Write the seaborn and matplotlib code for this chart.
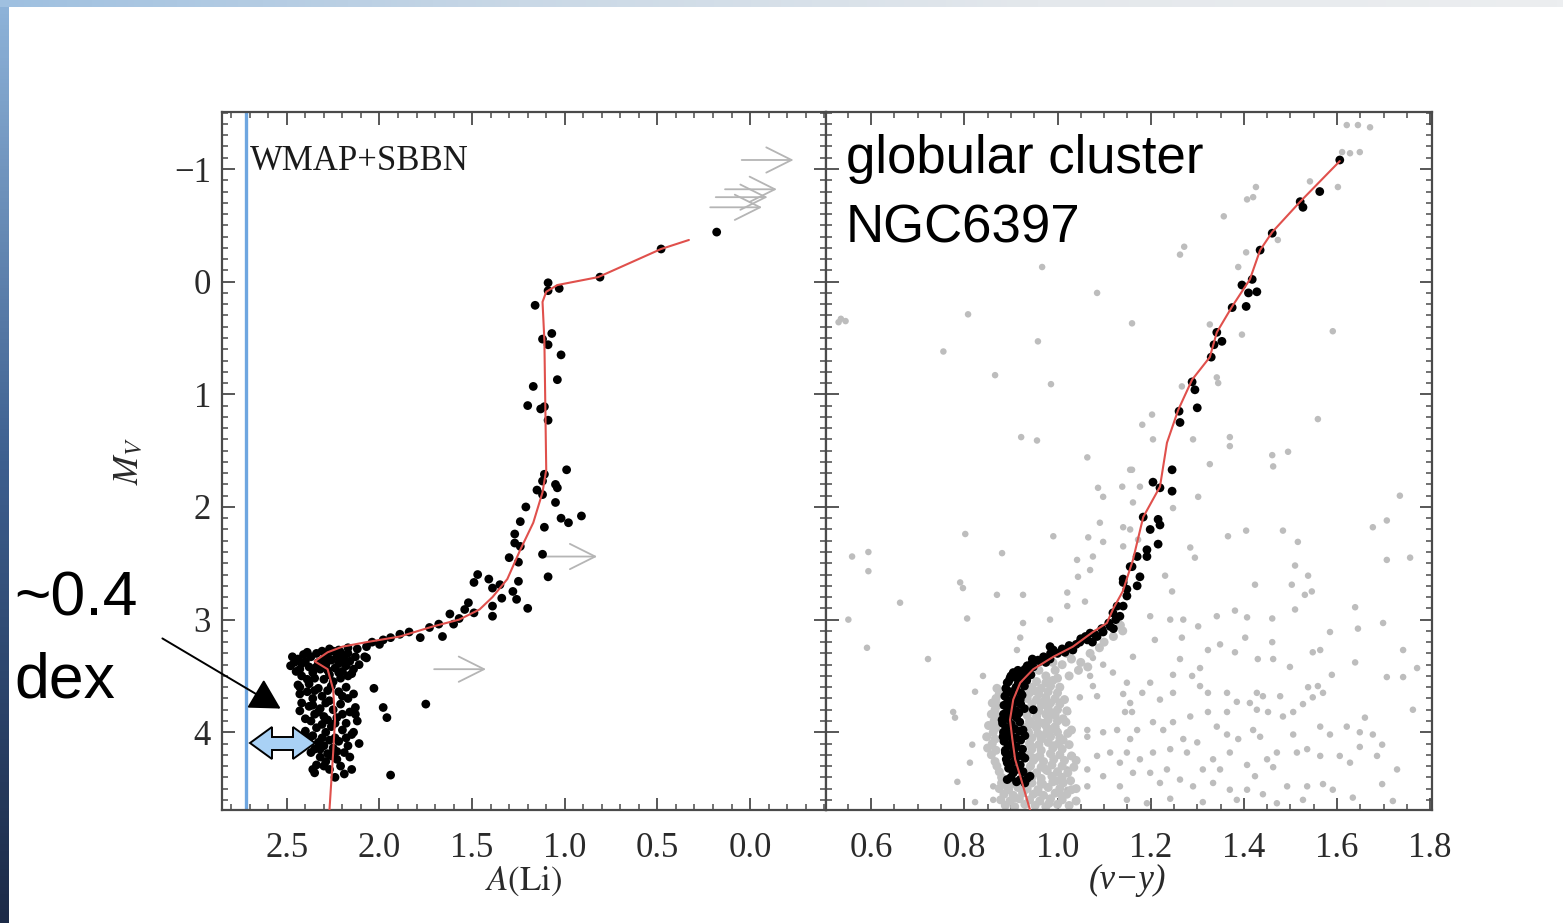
import numpy as np
import pandas as pd
import matplotlib
matplotlib.use("Agg")
import matplotlib.pyplot as plt
import matplotlib.patches as mpatches
from matplotlib.colors import LinearSegmentedColormap
from matplotlib.ticker import MultipleLocator, FormatStrFormatter
import seaborn as sns

# ---------------- data ----------------
wmap_sbbn_ali = 2.72

# fiducial line, left panel: (A(Li), M_V)
li_fit = [(0.33, -0.37), (0.48, -0.29), (0.82, -0.04), (1.04, 0.03), (1.10, 0.09),
          (1.12, 0.18), (1.11, 0.52), (1.10, 1.67), (1.12, 1.87), (1.17, 2.14),
          (1.24, 2.38), (1.31, 2.64), (1.39, 2.80), (1.46, 2.91), (1.57, 3.00),
          (1.71, 3.06), (1.89, 3.15), (2.07, 3.20), (2.20, 3.24), (2.28, 3.29),
          (2.35, 3.37), (2.28, 3.44), (2.25, 3.62), (2.24, 3.89), (2.25, 4.18),
          (2.27, 4.69)]

# subgiant / giant stars with Li detections
li_giants = [(0.18, -0.44), (0.48, -0.29), (0.81, -0.04), (1.09, 0.01), (1.09, 0.08),
             (1.03, 0.06), (1.16, 0.21), (1.07, 0.46), (1.12, 0.51), (1.09, 0.56),
             (1.02, 0.65), (1.04, 0.87), (1.17, 0.93), (1.20, 1.10), (1.13, 1.13),
             (1.11, 1.11), (1.09, 1.23), (0.99, 1.67), (1.11, 1.71), (1.15, 1.85),
             (1.12, 1.77), (1.05, 1.80), (1.04, 1.83), (1.12, 1.89), (1.05, 1.96),
             (1.21, 2.00), (1.24, 2.13), (1.02, 2.10), (0.98, 2.14), (0.91, 2.08),
             (1.11, 2.18), (1.27, 2.24), (1.27, 2.32), (1.24, 2.35), (1.12, 2.42),
             (1.30, 2.45), (1.25, 2.49), (1.47, 2.60), (1.49, 2.67), (1.41, 2.64),
             (1.39, 2.72), (1.35, 2.69), (1.25, 2.66), (1.09, 2.62), (1.28, 2.75),
             (1.26, 2.82), (1.34, 2.81), (1.39, 2.88), (1.39, 2.97), (1.20, 2.90),
             (1.52, 2.85), (1.54, 2.91), (1.62, 2.95), (1.49, 2.94), (1.57, 2.99),
             (1.60, 3.04), (1.66, 3.15), (1.68, 3.04), (1.73, 3.07), (1.78, 3.16),
             (1.84, 3.11), (1.89, 3.13), (1.94, 3.16), (1.98, 3.18), (2.04, 3.20),
             (2.07, 3.24), (2.00, 3.22), (2.08, 3.33), (2.03, 3.61), (1.98, 3.78),
             (1.96, 3.87), (1.75, 3.75), (1.94, 4.38)]

# turn-off / main-sequence stars (the plateau clump)
li_dwarfs = [(2.46, 3.38), (2.48, 3.41), (2.44, 3.35), (2.41, 3.31), (2.43, 3.44),
             (2.39, 3.29), (2.40, 3.37), (2.37, 3.33), (2.38, 3.42), (2.36, 3.47),
             (2.34, 3.30), (2.33, 3.38), (2.35, 3.52), (2.31, 3.28), (2.30, 3.35),
             (2.32, 3.44), (2.29, 3.40), (2.28, 3.31), (2.27, 3.49), (2.26, 3.36),
             (2.25, 3.28), (2.24, 3.43), (2.23, 3.33), (2.22, 3.39), (2.21, 3.29),
             (2.20, 3.46), (2.19, 3.35), (2.18, 3.41), (2.17, 3.30), (2.16, 3.37),
             (2.14, 3.44), (2.13, 3.33), (2.11, 3.40), (2.45, 3.46), (2.42, 3.50),
             (2.39, 3.53), (2.30, 3.53), (2.25, 3.55), (2.21, 3.52), (2.17, 3.50),
             (2.47, 3.33), (2.42, 3.39), (2.34, 3.42), (2.28, 3.45), (2.22, 3.47),
             (2.15, 3.48), (2.12, 3.26), (2.17, 3.25), (2.22, 3.27), (2.27, 3.26),
             (2.44, 3.58), (2.43, 3.66), (2.42, 3.74), (2.43, 3.81), (2.40, 3.88),
             (2.43, 3.60), (2.38, 3.57), (2.39, 3.64), (2.36, 3.70), (2.38, 3.77),
             (2.35, 3.84), (2.37, 3.90), (2.34, 3.96), (2.36, 4.03), (2.33, 4.09),
             (2.35, 4.15), (2.32, 4.22), (2.34, 4.29), (2.33, 3.61), (2.31, 3.68),
             (2.32, 3.79), (2.30, 3.86), (2.31, 3.93), (2.29, 4.00), (2.30, 4.12),
             (2.28, 4.19), (2.29, 4.26), (2.27, 4.33), (2.26, 3.59), (2.27, 3.72),
             (2.25, 3.80), (2.26, 3.95), (2.24, 4.05), (2.25, 4.14), (2.23, 4.24),
             (2.22, 3.64), (2.21, 3.75), (2.23, 3.87), (2.20, 3.98), (2.22, 4.08),
             (2.19, 4.18), (2.21, 4.30), (2.18, 3.60), (2.17, 3.70), (2.16, 3.82),
             (2.18, 3.92), (2.15, 4.02), (2.17, 4.12), (2.16, 4.22), (2.14, 3.66),
             (2.13, 3.78), (2.12, 3.90), (2.14, 4.00), (2.11, 4.10), (2.19, 4.37),
             (2.24, 4.40), (2.15, 4.33), (2.38, 4.05), (2.37, 4.18), (2.36, 4.33),
             (2.40, 3.99), (2.28, 3.63), (2.35, 3.63), (2.20, 3.68), (2.24, 3.92),
             (2.28, 3.89), (2.33, 3.82), (2.36, 3.76), (2.31, 4.05), (2.27, 4.07),
             (2.18, 4.05), (2.23, 4.17), (2.32, 4.15), (2.29, 3.74), (2.20, 3.84),
             (2.26, 4.21), (2.30, 4.30), (2.13, 3.84), (2.07, 3.34), (2.35, 4.36)]

# upper limits on A(Li): (limit, M_V)
li_limits = [(0.06, -1.08), (0.15, -0.82), (0.20, -0.75), (0.23, -0.66),
             (1.12, 2.44), (1.72, 3.44)]

# fiducial line, right panel: ((v-y), M_V)
cmd_fit = [(1.606, -1.07), (1.521, -0.71), (1.461, -0.44), (1.435, -0.28), (1.413, -0.02),
           (1.375, 0.22), (1.342, 0.45), (1.327, 0.67), (1.289, 0.87), (1.259, 1.14),
           (1.235, 1.43), (1.220, 1.82), (1.184, 2.09), (1.162, 2.47), (1.140, 2.75),
           (1.120, 2.90), (1.106, 3.03), (1.076, 3.11), (1.033, 3.24), (0.991, 3.33),
           (0.948, 3.44), (0.920, 3.56), (0.905, 3.71), (0.898, 3.89), (0.903, 4.06),
           (0.909, 4.24), (0.920, 4.39), (0.941, 4.69)]

# spectroscopic targets (black) in the colour-magnitude diagram
cmd_members = [(1.606, -1.08), (1.563, -0.80), (1.521, -0.71), (1.527, -0.66), (1.461, -0.43),
               (1.435, -0.28), (1.418, -0.02), (1.396, 0.03), (1.410, 0.10), (1.428, 0.09),
               (1.405, 0.22), (1.375, 0.23), (1.342, 0.45), (1.336, 0.56), (1.353, 0.53),
               (1.330, 0.67), (1.289, 0.89), (1.295, 0.96), (1.300, 1.12), (1.261, 1.15),
               (1.263, 1.25), (1.246, 1.67), (1.205, 1.78), (1.220, 1.83), (1.246, 1.86),
               (1.184, 2.09), (1.216, 2.11), (1.220, 2.16), (1.199, 2.20), (1.216, 2.33),
               (1.192, 2.38), (1.192, 2.44), (1.171, 2.44), (1.156, 2.53), (1.177, 2.62),
               (1.171, 2.70), (1.141, 2.67), (1.149, 2.79), (1.141, 2.88), (1.134, 2.97),
               (1.160, 2.53), (1.141, 2.64), (1.149, 2.73), (1.128, 2.88), (1.119, 2.94),
               (1.113, 3.06), (1.098, 3.11), (1.085, 3.15), (1.064, 3.18), (1.048, 3.20),
               (1.033, 3.27), (1.016, 3.29), (0.991, 3.27), (0.984, 3.35), (0.963, 3.37),
               (0.948, 3.42), (0.935, 3.46), (0.920, 3.47), (0.905, 3.51), (0.892, 3.56),
               (0.892, 3.65), (0.892, 3.74), (0.881, 3.89), (0.883, 4.04), (0.888, 4.18),
               (0.892, 4.27), (0.892, 4.42), (0.920, 4.42), (0.941, 4.39), (0.948, 3.80),
               (0.926, 3.98), (0.924, 4.21), (0.920, 3.71), (0.913, 3.82),
               (1.125, 3.00), (1.110, 3.03), (1.120, 3.08), (1.095, 3.08), (1.080, 3.13),
               (1.070, 3.12), (1.060, 3.15), (1.075, 3.20), (1.050, 3.17), (1.040, 3.22),
               (1.025, 3.23), (1.010, 3.26), (1.000, 3.30), (0.985, 3.30), (0.970, 3.33),
               (0.975, 3.38), (0.958, 3.36), (0.945, 3.39), (0.935, 3.41), (0.930, 3.44),
               (0.915, 3.45), (0.905, 3.47), (0.898, 3.52), (0.915, 3.50), (0.984, 3.24),
               (0.946, 3.35), (0.900, 3.50), (0.925, 3.51), (0.943, 3.49), (0.895, 3.55),
               (0.916, 3.56), (0.934, 3.54), (0.889, 3.61), (0.911, 3.60), (0.929, 3.59),
               (0.901, 3.64), (0.921, 3.65), (0.887, 3.68), (0.906, 3.69), (0.924, 3.67),
               (0.896, 3.72), (0.914, 3.73), (0.885, 3.76), (0.903, 3.77), (0.921, 3.75),
               (0.893, 3.80), (0.911, 3.81), (0.929, 3.79), (0.884, 3.84), (0.899, 3.85),
               (0.917, 3.83), (0.894, 3.88), (0.912, 3.87), (0.882, 3.92), (0.901, 3.93),
               (0.919, 3.91), (0.889, 3.96), (0.908, 3.97), (0.884, 4.00), (0.899, 4.01),
               (0.918, 3.99), (0.892, 4.04), (0.911, 4.05), (0.930, 4.03), (0.885, 4.08),
               (0.903, 4.09), (0.921, 4.07), (0.894, 4.12), (0.912, 4.13), (0.888, 4.16),
               (0.906, 4.17), (0.925, 4.15), (0.897, 4.20), (0.915, 4.21), (0.890, 4.24),
               (0.909, 4.25), (0.930, 4.23), (0.900, 4.28), (0.920, 4.29), (0.895, 4.32),
               (0.912, 4.33), (0.905, 4.36), (0.926, 4.35), (0.900, 4.40), (0.935, 4.41),
               (0.912, 4.44), (0.930, 4.45)]

# photometric field (grey)
cmd_field = [(0.967, -0.13), (1.085, 0.10), (0.808, 0.29), (1.160, 0.37), (0.958, 0.53),
             (0.755, 0.62), (0.866, 0.83), (0.986, 0.91), (0.922, 1.38), (0.956, 1.41),
             (0.535, 0.33), (0.545, 0.35), (0.530, 0.36),
             (1.621, -1.39), (1.645, -1.39), (1.671, -1.37), (1.611, -1.15), (1.628, -1.14),
             (1.649, -1.15), (1.602, -0.84), (1.542, -0.89), (1.426, -0.84), (1.407, -0.73),
             (1.420, -0.75), (1.357, -0.58), (1.272, -0.31), (1.263, -0.24), (1.405, -0.26),
             (1.388, -0.13), (1.473, -0.37), (1.396, 0.47), (1.591, 0.44), (1.327, 0.38),
             (1.342, 0.85), (1.345, 0.90), (1.203, 1.18), (1.182, 1.27), (1.559, 1.22),
             (1.370, 1.38), (1.291, 1.40), (1.267, 0.93),
             (1.370, 1.46), (1.461, 1.54), (1.495, 1.51), (1.463, 1.64), (1.327, 1.62),
             (1.302, 1.91), (1.248, 2.01), (1.735, 1.90), (1.677, 2.18), (1.707, 2.12),
             (1.757, 2.45), (1.707, 2.47), (1.366, 2.26), (1.405, 2.21), (1.484, 2.21),
             (1.516, 2.31), (1.285, 2.36), (1.295, 2.45), (1.231, 2.61), (1.246, 2.75),
             (1.510, 2.52), (1.538, 2.61), (1.503, 2.69), (1.424, 2.69), (1.531, 2.78),
             (1.546, 2.75), (1.510, 2.91), (1.639, 2.89), (1.699, 3.03), (1.645, 3.08),
             (1.585, 3.11), (1.461, 2.99), (1.381, 2.92), (1.342, 2.97), (1.407, 2.98),
             (1.302, 3.06), (1.199, 2.97), (1.270, 3.00), (1.242, 3.00), (1.267, 3.16),
             (1.209, 3.18), (1.162, 3.33), (1.263, 3.35), (1.323, 3.27), (1.349, 3.22),
             (1.403, 3.16), (1.461, 3.20), (1.381, 3.29), (1.430, 3.35), (1.463, 3.35),
             (1.499, 3.42), (1.548, 3.29), (1.564, 3.27), (1.589, 3.49), (1.639, 3.38),
             (1.742, 3.27), (1.707, 3.51), (1.742, 3.51), (1.772, 3.43), (1.763, 3.80),
             (1.306, 3.43), (1.248, 3.49), (1.199, 3.56), (1.289, 3.50), (1.248, 3.65),
             (1.306, 3.59), (1.323, 3.65), (1.364, 3.65), (1.220, 3.71), (1.182, 3.65),
             (1.156, 3.74), (1.145, 3.82), (1.428, 3.65), (1.441, 3.68), (1.478, 3.68),
             (1.413, 3.74), (1.385, 3.73), (1.428, 3.80), (1.452, 3.82), (1.484, 3.86),
             (1.506, 3.82), (1.527, 3.75), (1.548, 3.69), (1.570, 3.65), (1.559, 3.59),
             (1.538, 3.60), (1.364, 3.82), (1.323, 3.82), (1.285, 3.86), (1.248, 3.91),
             (1.205, 3.91), (1.171, 3.98), (1.227, 3.98), (1.270, 4.06), (1.300, 4.09),
             (1.342, 3.95), (1.364, 4.02), (1.388, 4.06), (1.420, 3.98), (1.435, 4.04),
             (1.506, 4.02), (1.536, 4.15), (1.564, 3.95), (1.585, 4.02), (1.621, 3.95),
             (1.649, 4.00), (1.677, 4.02), (1.660, 3.87), (1.697, 4.11), (1.686, 4.21),
             (1.606, 4.21), (1.564, 4.21), (1.514, 4.18), (1.471, 4.18), (1.450, 4.24),
             (1.463, 4.31), (1.424, 4.39), (1.407, 4.29), (1.370, 4.18), (1.334, 4.24),
             (1.349, 4.33), (1.312, 4.33), (1.278, 4.18), (1.242, 4.15), (1.205, 4.18),
             (1.177, 4.24), (1.149, 4.18), (1.162, 4.36), (1.199, 4.36), (1.235, 4.33),
             (1.220, 4.45), (1.263, 4.42), (1.291, 4.48), (1.334, 4.45), (1.370, 4.51),
             (1.407, 4.51), (1.441, 4.55), (1.493, 4.48), (1.536, 4.48), (1.570, 4.46),
             (1.591, 4.51), (1.628, 4.27), (1.649, 4.13), (1.729, 4.33), (1.697, 4.46),
             (1.149, 4.60), (1.192, 4.63), (1.242, 4.59), (1.312, 4.62), (1.385, 4.60),
             (1.471, 4.63), (1.527, 4.60), (1.720, 4.61), (1.634, 4.58),
             (1.064, 1.56), (1.160, 1.67), (1.139, 1.82), (1.087, 1.83), (1.098, 1.91),
             (1.091, 2.14), (1.141, 2.18), (1.066, 2.27), (1.098, 2.31), (0.802, 2.24),
             (0.991, 2.26), (0.559, 2.44), (0.594, 2.40), (0.594, 2.57), (0.881, 2.41),
             (1.042, 2.47), (1.076, 2.44), (1.044, 2.62), (1.070, 2.56), (0.791, 2.67),
             (0.797, 2.72), (0.662, 2.85), (0.870, 2.78), (0.926, 2.78), (1.021, 2.76),
             (1.021, 2.88), (1.059, 2.84), (0.984, 3.00), (0.551, 3.00), (0.806, 2.99),
             (0.926, 3.03), (0.591, 3.25), (0.722, 3.35), (0.920, 3.16), (0.913, 3.27),
             (0.840, 3.50), (0.823, 3.64), (0.776, 3.82), (0.780, 3.87), (1.076, 3.34),
             (1.098, 3.40), (1.070, 3.50), (1.076, 3.59), (1.048, 3.69), (1.085, 3.68),
             (1.119, 3.47), (1.149, 3.56), (1.141, 3.66), (1.006, 3.73), (1.023, 3.82),
             (0.984, 3.82), (0.999, 3.98), (1.064, 3.98), (1.064, 4.04), (1.098, 4.00),
             (1.128, 3.98), (1.160, 3.82), (1.156, 4.06), (1.113, 4.18), (1.134, 4.27),
             (1.085, 4.21), (1.064, 4.33), (1.033, 4.21), (1.021, 4.33), (1.098, 4.39),
             (1.134, 4.48), (1.064, 4.48), (1.021, 4.51), (0.817, 4.11), (0.812, 4.27),
             (0.785, 4.44), (0.823, 4.62), (0.862, 4.48), (0.862, 4.60),
             (1.156, 1.67), (1.177, 1.82), (1.162, 1.96), (1.156, 2.20), (1.173, 2.29),
             (1.141, 2.35), (1.205, 1.40)]

# dense grey main sequence of the cluster
cmd_ms = [(0.955, 3.55), (0.975, 3.56), (0.990, 3.54), (0.945, 3.60), (0.965, 3.61),
          (0.985, 3.59), (1.005, 3.60), (0.870, 3.61), (0.940, 3.65), (0.960, 3.66),
          (0.980, 3.64), (1.000, 3.65), (0.875, 3.66), (0.935, 3.70), (0.955, 3.71),
          (0.975, 3.69), (0.995, 3.70), (1.015, 3.71), (0.868, 3.70), (0.945, 3.75),
          (0.965, 3.76), (0.985, 3.74), (1.005, 3.75), (0.872, 3.76), (0.860, 3.74),
          (0.940, 3.80), (0.960, 3.81), (0.980, 3.79), (1.000, 3.80), (1.020, 3.81),
          (0.866, 3.80), (0.935, 3.85), (0.955, 3.86), (0.975, 3.84), (0.995, 3.85),
          (0.870, 3.86), (0.858, 3.84), (0.940, 3.90), (0.960, 3.91), (0.980, 3.89),
          (1.000, 3.90), (1.018, 3.91), (0.864, 3.90), (0.935, 3.95), (0.955, 3.96),
          (0.975, 3.94), (0.995, 3.95), (0.868, 3.96), (0.852, 3.94), (0.938, 4.00),
          (0.958, 4.01), (0.978, 3.99), (1.000, 4.00), (1.022, 4.01), (0.862, 4.00),
          (0.945, 4.05), (0.965, 4.06), (0.985, 4.04), (1.005, 4.05), (0.866, 4.06),
          (0.848, 4.04), (0.940, 4.10), (0.960, 4.11), (0.980, 4.09), (1.002, 4.10),
          (1.025, 4.11), (0.860, 4.10), (0.945, 4.15), (0.965, 4.16), (0.990, 4.14),
          (1.010, 4.15), (0.868, 4.16), (0.850, 4.14), (0.940, 4.20), (0.962, 4.21),
          (0.985, 4.19), (1.005, 4.20), (1.030, 4.21), (0.858, 4.20), (0.948, 4.25),
          (0.970, 4.26), (0.992, 4.24), (1.015, 4.25), (0.866, 4.26), (0.942, 4.30),
          (0.965, 4.31), (0.988, 4.29), (1.010, 4.30), (1.035, 4.31), (0.870, 4.30),
          (0.935, 4.35), (0.955, 4.36), (0.978, 4.34), (1.000, 4.35), (1.022, 4.36),
          (0.875, 4.35), (0.945, 4.40), (0.965, 4.41), (0.988, 4.39), (1.010, 4.40),
          (0.880, 4.40), (0.880, 4.45), (0.900, 4.46), (0.920, 4.44), (0.945, 4.45),
          (0.968, 4.46), (0.990, 4.44), (1.012, 4.45), (0.875, 4.50), (0.895, 4.51),
          (0.915, 4.49), (0.935, 4.50), (0.958, 4.51), (0.980, 4.49), (1.005, 4.50),
          (1.030, 4.51), (0.885, 4.55), (0.905, 4.56), (0.925, 4.54), (0.948, 4.55),
          (0.970, 4.56), (0.995, 4.54), (1.020, 4.55), (0.878, 4.60), (0.898, 4.61),
          (0.918, 4.59), (0.940, 4.60), (0.962, 4.61), (0.985, 4.59), (1.010, 4.60),
          (1.040, 4.61), (0.888, 4.65), (0.908, 4.66), (0.930, 4.64), (0.952, 4.65),
          (0.975, 4.66), (1.000, 4.64), (1.025, 4.65),
          (0.940, 3.40), (0.960, 3.45), (0.975, 3.50), (0.995, 3.45), (1.010, 3.40),
          (1.030, 3.35), (1.050, 3.38), (1.020, 3.30), (0.990, 3.38), (1.070, 3.30),
          (1.090, 3.25), (1.100, 3.20), (1.045, 3.45), (1.065, 3.42), (1.000, 3.52),
          (1.025, 3.50), (1.120, 3.15), (1.135, 3.05), (1.140, 3.10),
          (0.950, 3.63), (0.970, 3.73), (0.990, 3.83), (0.948, 3.93), (0.968, 4.03),
          (0.992, 4.12), (0.952, 4.23), (0.975, 4.33), (0.998, 4.43), (0.958, 4.53),
          (0.982, 4.63), (1.010, 4.57), (0.990, 3.97), (1.012, 4.07), (0.970, 3.92),
          (0.945, 4.13), (1.012, 3.88), (0.965, 4.45), (0.928, 4.52), (0.908, 4.58),
          (0.892, 4.48), (1.028, 4.43), (1.040, 4.25), (1.030, 3.98), (1.040, 4.50)]

# ---------------- build tables ----------------
df_li_fit = pd.DataFrame(li_fit, columns=["ali", "mv"])
df_li_stars = pd.DataFrame(li_giants + li_dwarfs, columns=["ali", "mv"])
df_cmd_fit = pd.DataFrame(cmd_fit, columns=["vy", "mv"])
df_members = pd.DataFrame(cmd_members, columns=["vy", "mv"])
df_field = pd.DataFrame(cmd_field, columns=["vy", "mv"])
df_ms = pd.DataFrame(cmd_ms, columns=["vy", "mv"])

# ---------------- style ----------------
sns.set_theme(style="ticks")
plt.rcParams["font.family"] = ["Liberation Serif", "DejaVu Serif"]
plt.rcParams["mathtext.fontset"] = "stix"

W, H = 1563, 923
fig = plt.figure(figsize=(W / 100, H / 100), dpi=100)
fig.patch.set_facecolor("white")

# slide decoration: blue strip on the left, faint bar on top
strip = fig.add_axes([0, 0, 9 / W, 1])
strip.imshow(np.linspace(0, 1, 256).reshape(-1, 1), aspect="auto",
             cmap=LinearSegmentedColormap.from_list("s", ["#8fb4da", "#3d5f8f", "#1c2a47"]))
strip.set_axis_off()
bar = fig.add_axes([0, 1 - 7 / H, 1, 7 / H])
bar.imshow(np.linspace(0, 1, 256).reshape(1, -1), aspect="auto",
           cmap=LinearSegmentedColormap.from_list("b", ["#9fc0e0", "#c9d8e6", "#e4e8ec", "#eceef0"]))
bar.set_axis_off()

bottom, height = 1 - 810 / H, 698 / H
ax1 = fig.add_axes([222 / W, bottom, 604 / W, height])
ax2 = fig.add_axes([826 / W, bottom, 606 / W, height], sharey=ax1)

red = "#e0504c"
tick_col = "#2a2a2a"

# ---------------- left panel: A(Li) vs M_V ----------------
ax1.axvline(wmap_sbbn_ali, color="#6ea6e0", lw=2.4, zorder=1)
sns.scatterplot(data=df_li_stars, x="ali", y="mv", ax=ax1, color="black",
                s=40, edgecolor="none", zorder=3, legend=False)
sns.lineplot(data=df_li_fit, x="ali", y="mv", ax=ax1, sort=False, estimator=None,
             color=red, lw=1.5, zorder=4)
for a, m in li_limits:
    ax1.annotate("", xy=(a - 0.31, m), xytext=(a, m),
                 arrowprops=dict(arrowstyle="->,head_length=0.7,head_width=0.35",
                                 color="#b5b5b5", lw=1.3, mutation_scale=26), zorder=2)
ax1.text(2.70, -0.99, "WMAP+SBBN", fontsize=25, color="#1a1a1a", va="baseline", ha="left")

ax1.set_xlim(2.85, -0.41)
ax1.set_ylim(4.69, -1.506)
ax1.xaxis.set_major_locator(MultipleLocator(0.5))
ax1.xaxis.set_minor_locator(MultipleLocator(0.1))
ax1.xaxis.set_major_formatter(FormatStrFormatter("%.1f"))
ax1.yaxis.set_major_locator(MultipleLocator(1))
ax1.yaxis.set_minor_locator(MultipleLocator(0.1))
ax1.set_xlabel(r"$A(\mathrm{Li})$", fontsize=25, color=tick_col)
ax1.set_ylabel(r"$M_V$", fontsize=25, color=tick_col)
ax1.xaxis.set_label_coords(0.5, -0.078)
ax1.yaxis.set_label_coords(-0.125, 0.5)

# ---------------- right panel: (v-y) vs M_V ----------------
sns.scatterplot(data=df_field, x="vy", y="mv", ax=ax2, color="#bdbdbd",
                s=22, edgecolor="none", zorder=2, legend=False)
sns.scatterplot(data=df_ms, x="vy", y="mv", ax=ax2, color="#c2c2c2",
                s=42, edgecolor="none", zorder=2, legend=False)
sns.scatterplot(data=df_members, x="vy", y="mv", ax=ax2, color="black",
                s=40, edgecolor="none", zorder=3, legend=False)
sns.lineplot(data=df_cmd_fit, x="vy", y="mv", ax=ax2, sort=False, estimator=None,
             color=red, lw=1.5, zorder=4)
ax2.text(0.546, -0.346, "globular cluster\nNGC6397", fontsize=38, color="black",
         family=["Liberation Sans", "DejaVu Sans"], va="baseline", ha="left", linespacing=1.5)

ax2.set_xlim(0.503, 1.804)
ax2.xaxis.set_major_locator(MultipleLocator(0.2))
ax2.xaxis.set_minor_locator(MultipleLocator(0.05))
ax2.xaxis.set_major_formatter(FormatStrFormatter("%.1f"))
ax2.set_xlabel("(v\u2212y)", fontsize=25, style="italic", color=tick_col)
ax2.xaxis.set_label_coords(0.497, -0.078)
ax2.set_ylabel("")
ax2.tick_params(axis="y", labelleft=False)

for ax in (ax1, ax2):
    for sp in ax.spines.values():
        sp.set_color("#4a4a4a")
        sp.set_linewidth(1.6)
    ax.tick_params(which="both", direction="in", top=True, right=True,
                   colors="#4a4a4a", labelcolor=tick_col, labelsize=25)
    ax.tick_params(which="major", length=9, width=1.3)
    ax.tick_params(which="minor", length=4.5, width=1.1)
    ax.tick_params(axis="x", pad=16)
    ax.tick_params(axis="y", pad=8)
    ax.set_facecolor("white")

# ---------------- slide annotations ----------------
fig.text(14 / W, 1 - 697 / H, "~0.4\ndex", fontsize=45, color="black",
         family=["Liberation Sans", "DejaVu Sans"], va="baseline", ha="left", linespacing=1.48)
fig.add_artist(mpatches.FancyArrowPatch(
    (160 / W, 1 - 637 / H), (283 / W, 1 - 710 / H), transform=fig.transFigure,
    arrowstyle="-|>,head_length=0.9,head_width=0.5", mutation_scale=21,
    color="black", lw=1.4))

# double-headed block arrow marking the 0.4 dex offset
px = [250, 272, 272, 293, 293, 315, 293, 293, 272, 272]
py = [743, 727, 737, 737, 727, 743, 759, 750, 750, 759]
fig.add_artist(mpatches.Polygon(
    [(x / W, 1 - y / H) for x, y in zip(px, py)], closed=True, transform=fig.transFigure,
    facecolor="#a9d1f5", edgecolor="black", lw=1.4, zorder=10))

fig.savefig("out.png", dpi=100, facecolor="white")
